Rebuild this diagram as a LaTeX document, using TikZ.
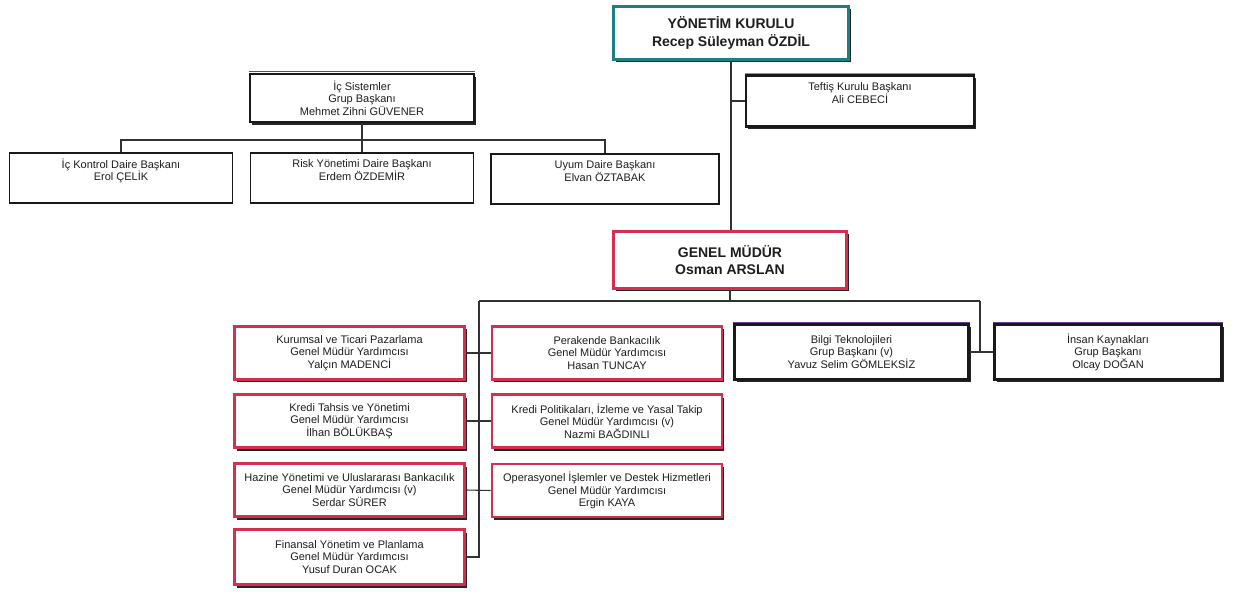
\documentclass[tikz,border=0pt]{standalone}
\usepackage{fontspec}
\setmainfont{Liberation Sans}
\usetikzlibrary{shadows}
\definecolor{crim}{RGB}{214,46,78}
\definecolor{tealb}{RGB}{28,128,128}
\definecolor{purp}{RGB}{110,60,150}
\definecolor{greenb}{RGB}{110,180,60}
\definecolor{txt}{RGB}{30,30,30}
\definecolor{lnk}{RGB}{50,50,50}
\begin{document}
\begin{tikzpicture}[x=1pt,y=-1pt,
  base/.style={rectangle, align=center, font=\fontsize{11}{12.5}\selectfont, text=txt, fill=white, inner sep=0pt},
  shad/.style={drop shadow={shadow xshift=2pt, shadow yshift=-3pt, fill=black!85, opacity=1}},
  redbox/.style={base, shad, draw=crim, line width=2.6pt, minimum width=230pt, minimum height=53pt},
  blkbox/.style={base, shad, draw=black!90, line width=2.4pt},
  thinbox/.style={base, draw=black!90, line width=1.6pt, minimum width=223pt, minimum height=50pt,
     drop shadow={shadow xshift=0.8pt, shadow yshift=-1.2pt, fill=black!70, opacity=1}},
  bigbox/.style={base, shad, line width=3.2pt, font=\fontsize{14}{17.5}\selectfont\bfseries},
  link/.style={draw=lnk, line width=1.1pt},
  topline/.style={line width=1pt}
]
\useasboundingbox[fill=white] (0,0) rectangle (1234,593);

% top level
\node[bigbox, draw=tealb, minimum width=235pt, minimum height=53pt] (yk) at (731,33) {YÖNETİM KURULU\\Recep Süleyman ÖZDİL};
\node[blkbox, minimum width=224pt, minimum height=48pt] (ics) at (362,98) {İç Sistemler\\Grup Başkanı\\Mehmet Zihni GÜVENER};
\node[blkbox, minimum width=228pt, minimum height=51pt] (tef) at (860,101) {Teftiş Kurulu Başkanı\\Ali CEBECİ\\\strut};

% level 2
\node[thinbox] (ick) at (121,178) {İç Kontrol Daire Başkanı\\Erol ÇELİK\\\strut};
\node[thinbox] (risk) at (362,178) {Risk Yönetimi Daire Başkanı\\Erdem ÖZDEMİR\\\strut};
\node[thinbox, minimum width=228pt] (uyum) at (605,179) {Uyum Daire Başkanı\\Elvan ÖZTABAK\\\strut};

% general manager
\node[bigbox, draw=crim, line width=3pt, minimum width=233pt, minimum height=57pt, font=\fontsize{14}{16.5}\selectfont\bfseries] (gm) at (730,260) {GENEL MÜDÜR\\Osman ARSLAN};

% left column
\node[redbox] (kur) at (349.5,353) {Kurumsal ve Ticari Pazarlama\\Genel Müdür Yardımcısı\\Yalçın MADENCİ};
\node[redbox] (kt) at (349.5,421) {Kredi Tahsis ve Yönetimi\\Genel Müdür Yardımcısı\\İlhan BÖLÜKBAŞ};
\node[redbox] (haz) at (349.5,490) {Hazine Yönetimi ve Uluslararası Bankacılık\\Genel Müdür Yardımcısı (v)\\Serdar SÜRER};
\node[redbox, minimum height=55pt] (fin) at (349.5,557) {Finansal Yönetim ve Planlama\\Genel Müdür Yardımcısı\\Yusuf Duran OCAK};

% right column
\node[redbox] (per) at (607,353) {Perakende Bankacılık\\Genel Müdür Yardımcısı\\Hasan TUNCAY};
\node[redbox] (kp) at (607,421) {Kredi Politikaları, İzleme ve Yasal Takip\\Genel Müdür Yardımcısı (v)\\Nazmi BAĞDINLI};
\node[redbox] (op) at (607,490.5) {Operasyonel İşlemler ve Destek Hizmetleri\\Genel Müdür Yardımcısı\\Ergin KAYA};

% group heads
\node[blkbox, minimum width=234pt, minimum height=55pt] (bt) at (851.5,352) {Bilgi Teknolojileri\\Grup Başkanı (v)\\Yavuz Selim GÖMLEKSİZ};
\node[blkbox, minimum width=227pt, minimum height=55pt] (ik) at (1108,352) {İnsan Kaynakları\\Grup Başkanı\\Olcay DOĞAN};

% coloured top edges
\draw[topline, purp] ([yshift=0.8pt]ics.north west) -- ([yshift=0.8pt]ics.north east);
\draw[topline, greenb] ([yshift=0.8pt]tef.north west) -- ([yshift=0.8pt]tef.north east);
\draw[topline, purp] ([yshift=0.8pt]bt.north west) -- ([yshift=0.8pt]bt.north east);
\draw[topline, purp] ([yshift=0.8pt]ik.north west) -- ([yshift=0.8pt]ik.north east);

% connectors
\coordinate (b1) at (479,301);
\coordinate (b2) at (980,301);
\coordinate (c1) at (121,140);
\coordinate (c2) at (605,140);

\draw[link] (yk.south) -- (yk.south |- gm.north);
\draw[link] (tef.west -| yk.south) -- (tef.west);
\draw[link] (ics.south) -- (risk.north);
\draw[link] (ick.north) -- (c1) -- (c2) -- (uyum.north);
\draw[link] (gm.south) -- (gm.south |- b1);
\draw[link] (b1) -- (b2);
\draw[link] (b1) -- (b1 |- fin.east) -- (fin.east);
\draw[link] (kur.east) -- (per.west);
\draw[link] (kt.east) -- (kp.west);
\draw[link] (haz.east) -- (op.west);
\draw[link] (b2) -- (b2 |- bt.east);
\draw[link] (bt.east) -- (ik.west);
\end{tikzpicture}
\end{document}
